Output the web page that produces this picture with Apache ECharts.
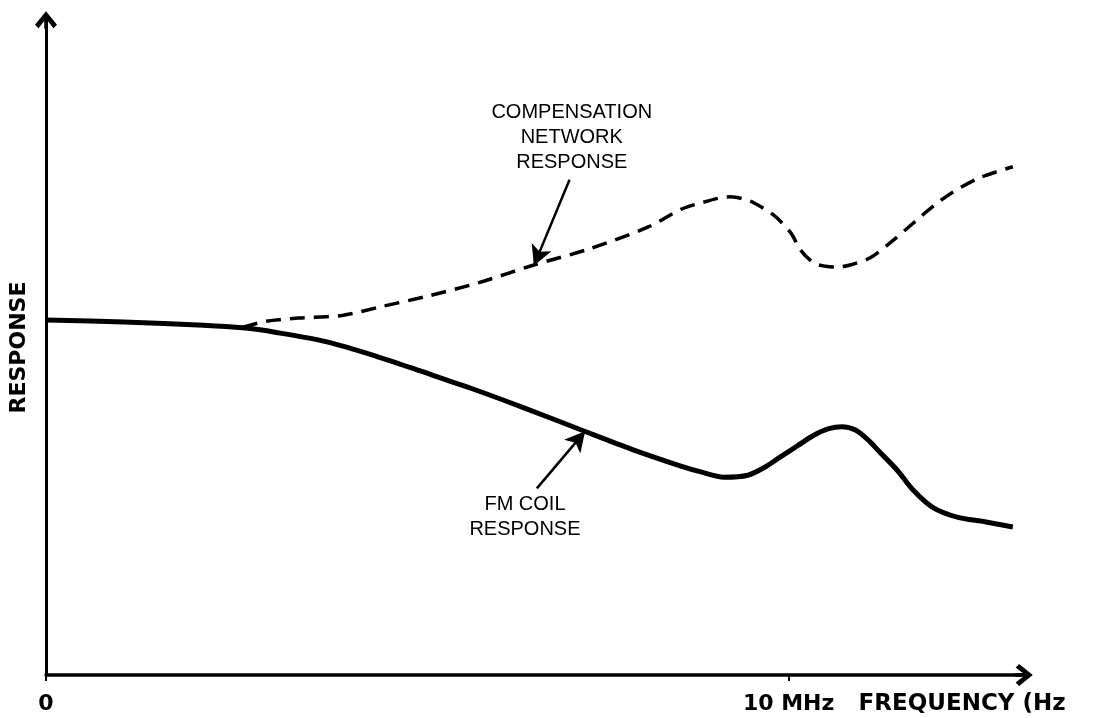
<!DOCTYPE html>
<html>
<head>
<meta charset="utf-8">
<script src="https://cdn.jsdelivr.net/npm/echarts@6/dist/echarts.min.js"></script>
<style>
html,body{margin:0;padding:0;background:#fff;}
#chart{width:1105px;height:718px;}
</style>
</head>
<body>
<div id="chart"></div>
<script>
// Frequency (MHz, linear) and relative response values
const fmCoilFreq = [0, 1.05, 2.12, 2.65, 3.10, 3.77, 4.44, 5.07, 5.74, 6.41, 7.21, 7.88, 8.55, 8.82, 9.13, 9.45, 9.69, 9.89, 10.12, 10.34, 10.54, 10.72, 10.90, 11.07, 11.23, 11.46, 11.68, 11.94, 12.27, 12.64, 13.02];
const fmCoilResp = [54.2, 53.9, 53.4, 53.0, 52.3, 50.9, 48.7, 46.3, 43.7, 40.9, 37.4, 34.5, 31.9, 31.0, 30.2, 30.5, 31.8, 33.3, 35.0, 36.6, 37.6, 37.9, 37.4, 35.9, 34.0, 31.3, 28.2, 25.6, 24.1, 23.4, 22.6];

const compFreq = [2.65, 2.96, 3.40, 3.99, 4.50, 5.16, 5.83, 6.57, 7.30, 8.11, 8.55, 8.86, 9.06, 9.22, 9.38, 9.53, 9.80, 10.03, 10.16, 10.34, 10.50, 10.66, 10.83, 11.10, 11.37, 11.68, 11.94, 12.21, 12.57, 13.02];
const compResp = [53.1, 54.0, 54.5, 54.9, 56.2, 57.9, 59.9, 62.6, 65.0, 68.4, 71.1, 72.2, 72.8, 73.0, 72.7, 72.1, 70.2, 67.5, 64.9, 62.9, 62.4, 62.3, 62.6, 63.7, 66.0, 69.0, 71.5, 73.7, 75.9, 77.6];

const xTickValues = [0, 10];
const xTickLabels = {0: '0', 10: '10 MHz'};
const xAxisTitle = 'FREQUENCY (Hz';
const yAxisTitle = 'RESPONSE';
const compLabel = 'COMPENSATION\nNETWORK\nRESPONSE';
const fmLabel = 'FM COIL\nRESPONSE';
// annotation anchor points in data units [freq, response]
const compLabelAt = [7.08, 82.1];
const compArrowFrom = [7.05, 75.6];
const compArrowTo = [6.57, 62.5];
const fmLabelAt = [6.45, 24.2];
const fmArrowFrom = [6.61, 28.5];
const fmArrowTo = [7.26, 37.2];

const fmCoil = fmCoilFreq.map((f, i) => [f, fmCoilResp[i]]);
const comp = compFreq.map((f, i) => [f, compResp[i]]);

const chevron = 'path://M5,0 L10,6.2 L8.4,7.8 L5,3.4 L1.6,7.8 L0,6.2 Z M4.2,1 L5.8,1 L5.8,8 L4.2,8 Z';
const ink = '#000';

const chart = echarts.init(document.getElementById('chart'), null, {renderer: 'canvas'});
const option = {
  backgroundColor: '#fff',
  animation: false,
  grid: {left: 43, right: 81, top: 20, bottom: 43},
  xAxis: {
    type: 'value', min: 0, max: 13.17,
    splitLine: {show: false},
    axisLine: {lineStyle: {color: ink, width: 3.5}, symbol: ['none', chevron], symbolSize: [22, 18]},
    axisTick: {show: true, length: 6, inside: false, customValues: xTickValues, lineStyle: {color: ink, width: 2}},
    axisLabel: {
      customValues: xTickValues, margin: 18, color: ink,
      fontFamily: 'DejaVu Sans', fontWeight: 'bold', fontSize: 22,
      formatter: v => xTickLabels[v] !== undefined ? xTickLabels[v] : ''
    }
  },
  yAxis: {
    type: 'value', min: 0, max: 100,
    name: yAxisTitle, nameLocation: 'middle', nameGap: 16, nameRotate: 90,
    nameTextStyle: {color: ink, fontFamily: 'DejaVu Sans', fontWeight: 'bold', fontSize: 22},
    splitLine: {show: false},
    axisLine: {show: true, lineStyle: {color: ink, width: 3}, symbol: ['none', chevron], symbolSize: [22, 18]},
    axisTick: {show: false},
    axisLabel: {show: false}
  },
  series: [
    {
      name: 'FM coil response', type: 'line', data: fmCoil, smooth: 0.3,
      showSymbol: false, silent: true,
      lineStyle: {color: ink, width: 5},
      markLine: {
        silent: true, animation: false,
        label: {show: false},
        lineStyle: {color: ink, width: 2.5, type: 'solid'},
        data: [[
          {coord: fmArrowFrom, symbol: 'none'},
          {coord: fmArrowTo, symbol: 'arrow', symbolSize: [16, 20]}
        ]]
      }
    },
    {
      name: 'Compensation network response', type: 'line', data: comp, smooth: 0.3,
      showSymbol: false, silent: true,
      lineStyle: {color: ink, width: 3.5, type: [15, 9]},
      markLine: {
        silent: true, animation: false,
        label: {show: false},
        lineStyle: {color: ink, width: 2.5, type: 'solid'},
        data: [[
          {coord: compArrowFrom, symbol: 'none'},
          {coord: compArrowTo, symbol: 'arrow', symbolSize: [16, 20]}
        ]]
      }
    }
  ]
};
chart.setOption(option);

function placeTexts() {
  const cp = chart.convertToPixel({gridIndex: 0}, compLabelAt);
  const fp = chart.convertToPixel({gridIndex: 0}, fmLabelAt);
  const xEnd = chart.convertToPixel({gridIndex: 0}, [10, 0]);
  chart.setOption({
    graphic: [
      {type: 'text', x: cp[0], y: cp[1], silent: true,
       style: {text: compLabel, fill: ink, font: '20px "Liberation Sans"', lineHeight: 25, align: 'center', verticalAlign: 'middle'}},
      {type: 'text', x: fp[0], y: fp[1], silent: true,
       style: {text: fmLabel, fill: ink, font: '20px "Liberation Sans"', lineHeight: 25, align: 'center', verticalAlign: 'middle'}},
      {type: 'text', x: xEnd[0] + 70, y: xEnd[1] + 29, silent: true,
       style: {text: xAxisTitle, fill: ink, font: 'bold 23px "DejaVu Sans"', align: 'left', verticalAlign: 'middle'}}
    ]
  });
}
placeTexts();
</script>
</body>
</html>
